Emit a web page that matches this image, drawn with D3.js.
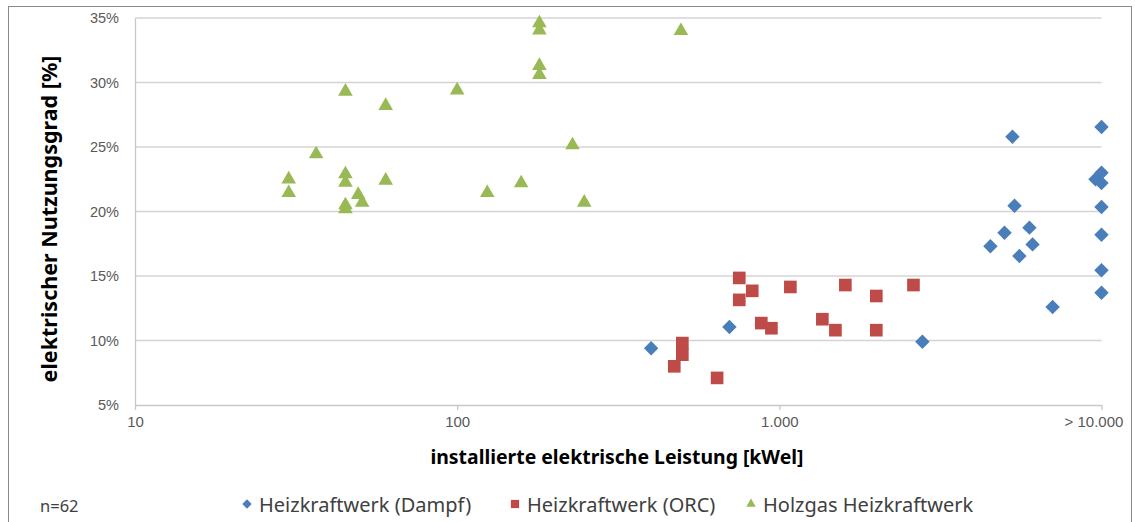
<!DOCTYPE html>
<html>
<head>
<meta charset="utf-8">
<script src="https://cdn.jsdelivr.net/npm/d3@7"></script>
<style>
  body { margin: 0; background: #fff; }
  svg { font-family: "Noto Sans", "Open Sans", sans-serif; }
</style>
</head>
<body>
<svg width="1135" height="522"></svg>
<script>
// installed capacity [kWel] and electrical efficiency [%]
var dampfKw = [400, 700, 2780, 4520, 5000, 5290, 5370, 5560, 5975, 6110, 7050,
  10000, 10000, 9580, 10000, 10000, 10000, 10000, 10000];
var dampfEta = [9.4, 11.05, 9.9, 17.3, 18.35, 25.8, 20.45, 16.55, 18.75, 17.45, 12.6,
  26.55, 23.0, 22.5, 22.2, 20.35, 18.2, 15.45, 13.7];

var orcKw = [472, 500, 500, 641, 751, 751, 824, 879, 945, 1082, 1360, 1493, 1603, 2000, 2000, 2608];
var orcEta = [8.0, 9.8, 8.9, 7.1, 14.85, 13.15, 13.85, 11.35, 10.95, 14.15, 11.65, 10.8, 14.3, 13.45, 10.8, 14.3];

var holzKw = [30, 30, 36.5, 45, 45, 45, 45, 45, 49.3, 50.7, 60, 60, 100, 124, 158,
  180, 180, 180, 180, 228, 248, 495];
var holzEta = [22.5, 21.45, 24.45, 29.3, 22.9, 22.25, 20.5, 20.2, 21.3, 20.7, 28.2, 22.4, 29.4, 21.45, 22.2,
  34.6, 34.05, 31.3, 30.6, 25.15, 20.7, 34.0];

var seriesNames = ["Heizkraftwerk (Dampf)", "Heizkraftwerk (ORC)", "Holzgas Heizkraftwerk"];
var xTicks = [10, 100, 1000, 10000];
var xTickLabels = ["10", "100", "1.000", "> 10.000"];
var yTicks = [5, 10, 15, 20, 25, 30, 35];

var svg = d3.select("svg");

var x = d3.scaleLog().domain([10, 10000]).range([135, 1101.5]);
var y = d3.scaleLinear().domain([5, 35]).range([405, 18]);

var series = [
  { name: seriesNames[0], kw: dampfKw, eta: dampfEta, color: "#4a7ebb", shape: "diamond" },
  { name: seriesNames[1], kw: orcKw, eta: orcEta, color: "#be4b48", shape: "square" },
  { name: seriesNames[2], kw: holzKw, eta: holzEta, color: "#98b954", shape: "triangle" }
];

function markerPath(shape, scale) {
  scale = scale || 1;
  if (shape === "diamond") return d3.symbol(d3.symbolSquare, 104 * scale * scale)();
  if (shape === "square") return d3.symbol(d3.symbolSquare, 160 * scale * scale)();
  return d3.symbol(d3.symbolTriangle, 92 * scale * scale)();
}
function markerRot(shape) { return shape === "diamond" ? " rotate(45)" : ""; }

// chart border
svg.append("rect")
  .attr("x", 8.5).attr("y", 6.5)
  .attr("width", 1123).attr("height", 530)
  .attr("fill", "none").attr("stroke", "#8a8a8a").attr("stroke-width", 1);

// gridlines
svg.append("g")
  .selectAll("line")
  .data(yTicks.filter(function(d) { return d > 5; }))
  .enter().append("line")
    .attr("x1", x.range()[0]).attr("x2", x.range()[1])
    .attr("y1", function(d) { return y(d); })
    .attr("y2", function(d) { return y(d); })
    .attr("stroke", "#d4d4d4").attr("stroke-width", 1.6);

// y axis
var yAxis = svg.append("g")
  .attr("transform", "translate(" + x.range()[0] + ",0)")
  .call(d3.axisLeft(y).tickValues(yTicks).tickSize(0).tickPadding(16)
    .tickFormat(function(d) { return d + "%"; }));
yAxis.select(".domain").attr("stroke", "#c8c8c8").attr("stroke-width", 1.3);
yAxis.selectAll("text").attr("fill", "#595959").attr("font-size", 14.5);

// x axis
var xAxis = svg.append("g")
  .attr("transform", "translate(0," + y(5) + ")")
  .call(d3.axisBottom(x).tickValues(xTicks).tickSizeInner(5).tickSizeOuter(0).tickPadding(6)
    .tickFormat(function(d, i) { return xTickLabels[i]; }));
xAxis.select(".domain").attr("stroke", "#c8c8c8").attr("stroke-width", 1.6);
xAxis.selectAll("line").attr("stroke", "#c8c8c8").attr("stroke-width", 1.3);
xAxis.selectAll("text").attr("fill", "#595959").attr("font-size", 15)
  .attr("dx", function(d) { return d === 10000 ? -8 : 0; });

// markers
series.forEach(function(s) {
  svg.append("g")
    .selectAll("path")
    .data(s.kw.map(function(k, i) { return [k, s.eta[i]]; }))
    .enter().append("path")
      .attr("d", markerPath(s.shape))
      .attr("transform", function(d) {
        return "translate(" + x(d[0]) + "," + y(d[1]) + ")" + markerRot(s.shape);
      })
      .attr("fill", s.color);
});

// axis titles
svg.append("text")
  .attr("transform", "translate(57," + 219 + ") rotate(-90)")
  .attr("text-anchor", "middle")
  .attr("font-size", 21.5).attr("font-weight", "bold").attr("fill", "#000")
  .text("elektrischer Nutzungsgrad [%]");

svg.append("text")
  .attr("x", 617).attr("y", 464)
  .attr("text-anchor", "middle")
  .attr("font-size", 19.4).attr("font-weight", "bold").attr("fill", "#000")
  .text("installierte elektrische Leistung [kWel]");

// legend
svg.append("text")
  .attr("x", 40).attr("y", 512)
  .attr("font-size", 16.5).attr("fill", "#404040")
  .text("n=62");

var legendX = [247, 515, 751];
var legend = svg.append("g").selectAll("g")
  .data(series)
  .enter().append("g")
    .attr("transform", function(d, i) { return "translate(" + legendX[i] + ",504)"; });
legend.append("path")
  .attr("d", function(d) { return markerPath(d.shape, 0.65); })
  .attr("transform", function(d) { return markerRot(d.shape); })
  .attr("fill", function(d) { return d.color; });
legend.append("text")
  .attr("x", 12).attr("y", 7.5)
  .attr("font-size", 20).attr("fill", "#404040")
  .text(function(d) { return d.name; });
</script>
</body>
</html>
